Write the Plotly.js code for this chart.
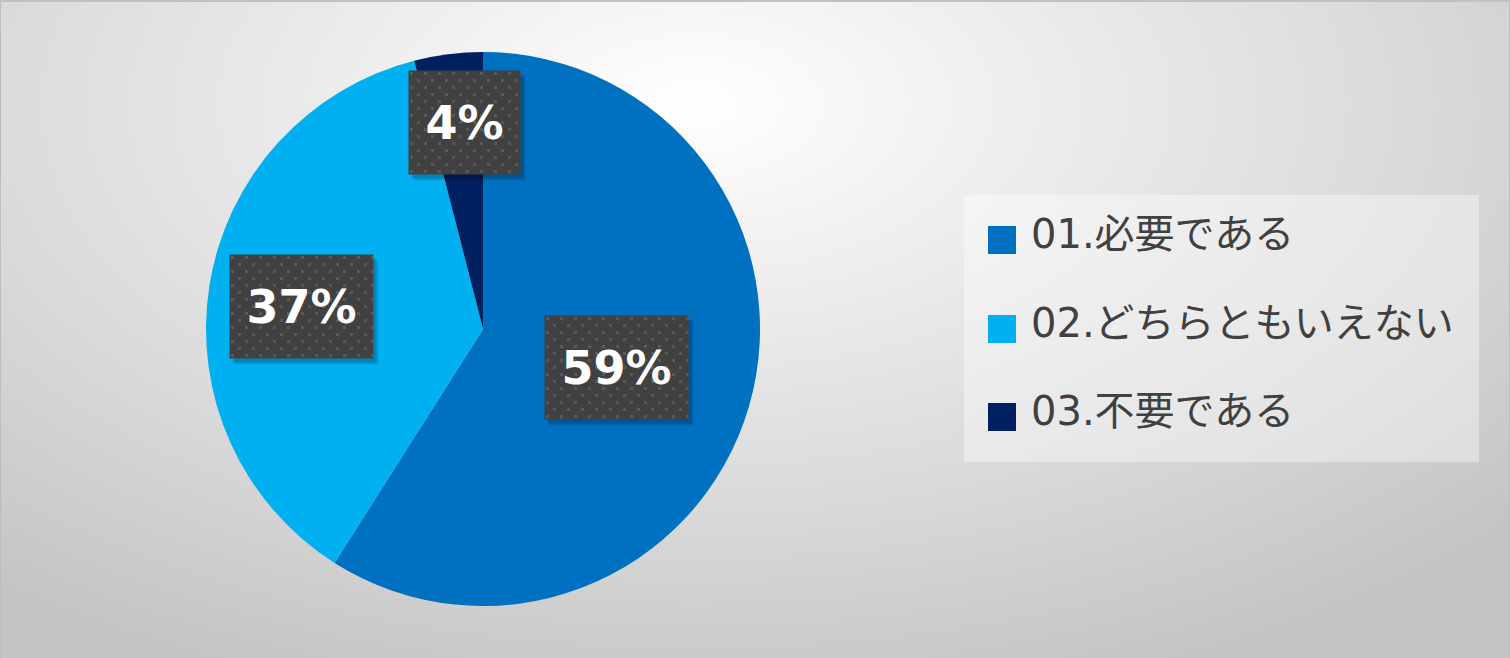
<!DOCTYPE html>
<html>
<head>
<meta charset="utf-8">
<script src="https://cdn.plot.ly/plotly-3.0.1.min.js"></script>
<style>
  html, body { margin: 0; padding: 0; }
  body {
    width: 1510px; height: 658px; overflow: hidden;
    background: radial-gradient(ellipse 75% 95% at 46% 16%, #ffffff 0%, #f0f0f0 25%, #d9d9d9 65%, #c3c3c3 100%);
  }
  #frame { position: absolute; left: 0; top: 0; width: 1508px; height: 656px; border: 1px solid #bdbdbd; border-top: 2px solid #c0c0c0; }
  #chart { position: absolute; left: 0; top: 0; width: 1510px; height: 658px; }
</style>
</head>
<body>
<div id="frame"></div>
<div id="chart"></div>
<script>
// ---- data ----
const categories = ['01.必要である', '02.どちらともいえない', '03.不要である'];
const values = [59, 37, 4];
const colors = ['#0070C0', '#00B0F0', '#002060'];

// ---- layout constants ----
const W = 1510, H = 658;
const cxPx = 483, cyPx = 329, R = 277;
const labelRadiusFrac = [0.5, 0.66, 0.75];
const labelAngleShift = [0, -2, 2];
const boxW = [143, 143, 111], boxH = 103;
const boxFill = '#414141';

const total = values.reduce((a, b) => a + b, 0);
const pctText = values.map(v => Math.round(v / total * 100) + '%');

const annotations = [];
const shapes = [];

// data labels placed from slice mid-angles
let cum = 0;
values.forEach((v, i) => {
  const mid = (cum + v / 2) / total * 360 + labelAngleShift[i];
  cum += v;
  const th = mid * Math.PI / 180;
  const px = cxPx + labelRadiusFrac[i] * R * Math.sin(th);
  const py = cyPx - labelRadiusFrac[i] * R * Math.cos(th);
  const base = {
    xref: 'paper', yref: 'paper', x: px / W, y: 1 - py / H,
    xanchor: 'center', yanchor: 'middle', showarrow: false,
    width: boxW[i], height: boxH, borderpad: 0
  };
  [[5, -6, 0.07], [4, -5, 0.08], [3, -4, 0.1]].forEach(s => {
    annotations.push(Object.assign({}, base, {
      text: ' ', bgcolor: 'rgba(0,0,0,' + s[2] + ')', xshift: s[0], yshift: s[1]
    }));
  });
  annotations.push(Object.assign({}, base, {
    text: '<b>' + pctText[i] + '</b>', bgcolor: boxFill,
    font: { family: 'DejaVu Sans, Verdana, sans-serif', size: 46, color: '#ffffff' }
  }));
});

// custom legend (large swatches)
const legX0 = 964, legX1 = 1479, legY0 = 195, legY1 = 462;
shapes.push({
  type: 'rect', xref: 'paper', yref: 'paper', layer: 'below',
  x0: legX0 / W, x1: legX1 / W, y0: 1 - legY1 / H, y1: 1 - legY0 / H,
  fillcolor: 'rgba(255,255,255,0.38)', line: { width: 0 }
});
const rowY = [240, 329, 417];
const sw = 28, swX = 988, txtX = 1029;
categories.forEach((c, i) => {
  shapes.push({
    type: 'rect', xref: 'paper', yref: 'paper',
    x0: swX / W, x1: (swX + sw) / W,
    y0: 1 - (rowY[i] + sw / 2) / H, y1: 1 - (rowY[i] - sw / 2) / H,
    fillcolor: colors[i], line: { width: 0 }
  });
  annotations.push({
    xref: 'paper', yref: 'paper', x: txtX / W, y: 1 - (rowY[i] - 6) / H,
    xanchor: 'left', yanchor: 'middle', showarrow: false,
    text: c,
    font: { family: 'DejaVu Sans, Noto Sans CJK JP, sans-serif', size: 40, color: '#404040' }
  });
});

const trace = {
  type: 'pie',
  labels: categories,
  values: values,
  sort: false,
  direction: 'clockwise',
  rotation: 0,
  marker: { colors: colors, line: { width: 0 } },
  textinfo: 'none',
  hoverinfo: 'label+percent',
  domain: { x: [(cxPx - R) / W, (cxPx + R) / W], y: [1 - (cyPx + R) / H, 1 - (cyPx - R) / H] },
  showlegend: false
};

const layout = {
  width: W, height: H,
  margin: { l: 0, r: 0, t: 0, b: 0 },
  paper_bgcolor: 'rgba(0,0,0,0)',
  plot_bgcolor: 'rgba(0,0,0,0)',
  showlegend: false,
  annotations: annotations,
  shapes: shapes
};

Plotly.newPlot('chart', [trace], layout, { displayModeBar: false, staticPlot: true }).then(gd => {
  // dotted texture on the data-label boxes
  const NS = 'http://www.w3.org/2000/svg';
  const svg = gd.querySelector('svg.main-svg');
  let defs = svg.querySelector('defs');
  if (!defs) { defs = document.createElementNS(NS, 'defs'); svg.insertBefore(defs, svg.firstChild); }
  const pat = document.createElementNS(NS, 'pattern');
  pat.setAttribute('id', 'dotsPat');
  pat.setAttribute('patternUnits', 'userSpaceOnUse');
  pat.setAttribute('width', '14'); pat.setAttribute('height', '14');
  const mk = (x, y, w, h, f) => {
    const r = document.createElementNS(NS, 'rect');
    r.setAttribute('x', x); r.setAttribute('y', y);
    r.setAttribute('width', w); r.setAttribute('height', h);
    r.setAttribute('fill', f); pat.appendChild(r);
  };
  mk(0, 0, 14, 14, boxFill);
  mk(2, 2, 3, 3, '#585858');
  mk(9, 9, 3, 3, '#585858');
  defs.appendChild(pat);
  gd.querySelectorAll('g.annotation rect.bg').forEach(r => {
    const f = r.style.fill;
    if (f === 'rgb(65, 65, 65)') r.style.fill = 'url(#dotsPat)';
  });
});
</script>
</body>
</html>
